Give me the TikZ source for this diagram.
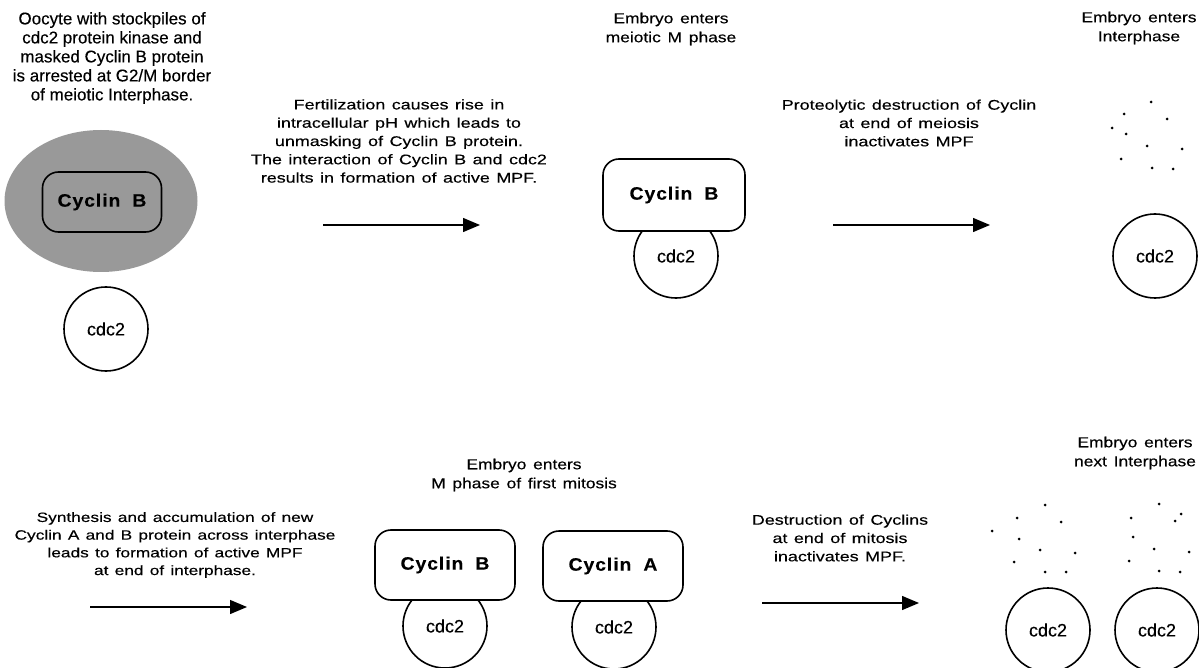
\documentclass[tikz,border=0pt]{standalone}
\usepackage{fontspec}
\setmainfont{Liberation Sans}
\newfontfamily\capfont[WordSpace=1.3,FakeBold=0.3,FakeStretch=1.28]{Liberation Sans}
\newfontfamily\stagefont[WordSpace=1.4,FakeBold=0.3,FakeStretch=1.2]{Liberation Sans}
\newfontfamily\bigfont[WordSpace=1.2,FakeBold=0.3]{Liberation Sans}
\newfontfamily\boxfont[LetterSpace=5,FakeBold=0.2,FakeStretch=1.08]{Liberation Sans Bold}
\newfontfamily\kinfont[FakeBold=0.3]{Liberation Sans}
\usetikzlibrary{arrows.meta,shapes.geometric}
\begin{document}
\begin{tikzpicture}[x=1pt,y=-1pt,
  captxt/.style={align=center,font=\capfont\fontsize{14}{18.3}\selectfont,inner sep=0pt},
  bigtxt/.style={align=center,font=\bigfont\fontsize{17}{19}\selectfont,inner sep=0pt},
  stagetxt/.style={align=center,font=\stagefont\fontsize{14.5}{19}\selectfont,inner sep=0pt},
  cyc/.style={draw,line width=1.6pt,rounded corners=16pt,minimum width=#1,minimum height=72pt,font=\boxfont\fontsize{18}{20}\selectfont,fill=white},
  cyc/.default=142pt,
  kin/.style={draw,circle,line width=1.6pt,minimum size=84pt,inner sep=0pt,font=\kinfont\fontsize{18}{20}\selectfont,fill=white},
  arr/.style={line width=1.3pt,-{Triangle[length=17pt,width=14pt]}},
  pdot/.style={fill=black,circle,inner sep=0pt,minimum size=3pt}]
\useasboundingbox (0,0) rectangle (1199,668);
% Panel 1
\node[bigtxt] (c1) at (112,58) {Oocyte with stockpiles of\\cdc2 protein kinase and\\masked Cyclin B protein\\is arrested at G2/M border\\of meiotic Interphase.};
\node[ellipse,draw=none,fill=black!40,minimum width=193pt,minimum height=142pt,inner sep=0pt] (egg) at (101,201) {};
\node[draw,line width=1.6pt,rounded corners=16pt,minimum width=119pt,minimum height=60pt,font=\boxfont\fontsize{18}{20}\selectfont] (cb1) at (102,202) {Cyclin\hspace{12pt}B};
\node[kin] (k1) at (106,329) {cdc2};
% Arrow 1
\node[captxt] (c2) at (399,141) {Fertilization causes rise in\\intracellular pH which leads to\\unmasking of Cyclin B protein.\\The interaction of Cyclin B and cdc2\\results in formation of active MPF.};
\coordinate (a1s) at (323,225); \coordinate (a1e) at (480,225);
\draw[arr] (a1s) -- (a1e);
% Panel 2
\node[stagetxt] (c3) at (671,29) {Embryo enters\\meiotic M phase};
\node[kin] (k2) at (676,256) {\raisebox{-3pt}{cdc2}};
\node[cyc] (cb2) at (674,195) {Cyclin\hspace{12pt}B};
% Arrow 2
\node[captxt] (c4) at (909,123) {Proteolytic destruction of Cyclin\\at end of meiosis\\inactivates MPF};
\coordinate (a2s) at (833,225); \coordinate (a2e) at (990,225);
\draw[arr] (a2s) -- (a2e);
% Panel 3
\node[stagetxt] (c5) at (1139,28) {Embryo enters\\Interphase};
\foreach \p [count=\i] in {(1151,102),(1124,114),(1167,119),(1112,128),(1126,134),(1147,146),(1182,149),(1121,159),(1152,168),(1173,169)}
  \node[pdot] (d3\i) at \p {};
\node[kin] (k3) at (1155,256) {cdc2};
% Bottom caption + arrow 3
\node[captxt,font=\capfont\fontsize{13.5}{17.7}\selectfont] (c6) at (175,545) {Synthesis and accumulation of new\\Cyclin A and B protein across interphase\\leads to formation of active MPF\\at end of interphase.};
\coordinate (a3s) at (90,607); \coordinate (a3e) at (247,607);
\draw[arr] (a3s) -- (a3e);
% Panel 4
\node[stagetxt] (c7) at (524,475) {Embryo enters\\M phase of first mitosis};
\node[kin] (k4) at (445,626) {cdc2};
\node[cyc=140pt,minimum height=70pt] (cb4) at (445,565) {Cyclin\hspace{12pt}B};
\node[kin] (k5) at (614,627) {\raisebox{-3pt}{cdc2}};
\node[cyc=140pt,minimum height=70pt] (ca4) at (613,566) {Cyclin\hspace{12pt}A};
% Arrow 4
\node[captxt] (c8) at (840,538) {Destruction of Cyclins\\at end of mitosis\\inactivates MPF.};
\coordinate (a4s) at (762,603); \coordinate (a4e) at (919,603);
\draw[arr] (a4s) -- (a4e);
% Panel 5
\node[stagetxt] (c9) at (1135,453) {Embryo enters\\next Interphase};
\foreach \p [count=\i] in {(1045,505),(1017,518),(1061,522),(992,531),(1019,539),(1040,550),(1075,553),(1014,562),(1045,572),(1066,572)}
  \node[pdot] (d5\i) at \p {};
\foreach \p [count=\i] in {(1159,504),(1181,514),(1131,518),(1175,521),(1133,537),(1154,549),(1189,552),(1129,561),(1159,571),(1180,572)}
  \node[pdot] (d6\i) at \p {};
\node[kin] (k6) at (1048,630) {cdc2};
\node[kin] (k7) at (1157,630) {cdc2};
\end{tikzpicture}
\end{document}
